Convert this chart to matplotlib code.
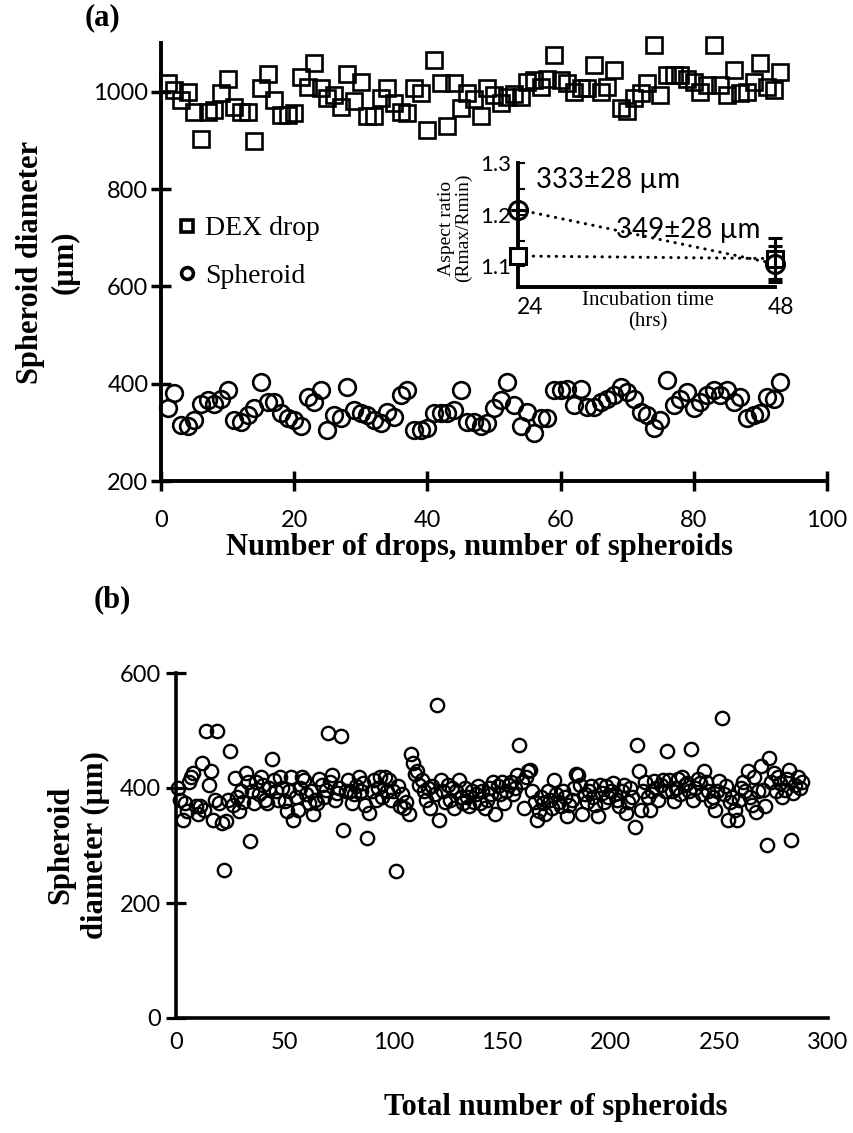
import numpy as np
import matplotlib
matplotlib.use("Agg")
import matplotlib.pyplot as plt
from matplotlib.lines import Line2D
from matplotlib.transforms import offset_copy

# ---------------- data ----------------
# (a) diameters of DEX drops and of the spheroids formed in them
drop_idx = np.arange(1, 94)
dex_diam = [1017, 1003, 983, 1000, 959, 902, 959, 963, 997, 1027,
            969, 959, 959, 898, 1007, 1037, 983, 953, 953, 956,
            1031, 1010, 1058, 1007, 986, 993, 969, 1037, 980, 1020,
            949, 949, 986, 1007, 976, 959, 956, 1007, 997, 922,
            1065, 1017, 929, 1017, 966, 997, 985, 949, 1007, 993,
            976, 990, 995, 990, 1020, 1024, 1010, 1027, 1075, 1024,
            1017, 1000, 1007, 1007, 1054, 1000, 1010, 1044, 966, 960,
            986, 997, 1017, 1096, 993, 1034, 1034, 1034, 1027, 1020,
            1000, 1014, 1096, 1014, 993, 1044, 997, 1000, 1020, 1058,
            1010, 1003, 1041]
sph_diam = [349, 380, 315, 312, 325, 359, 366, 359, 369, 386,
            325, 322, 335, 349, 403, 363, 363, 340, 329, 325,
            312, 373, 363, 386, 305, 335, 329, 393, 346, 339,
            335, 325, 319, 342, 332, 376, 386, 305, 305, 308,
            339, 339, 339, 346, 386, 322, 322, 312, 319, 349,
            366, 403, 356, 312, 342, 298, 329, 329, 386, 386,
            390, 356, 390, 353, 353, 363, 369, 376, 393, 383,
            369, 342, 335, 308, 325, 407, 356, 369, 383, 349,
            363, 376, 386, 376, 386, 363, 373, 329, 335, 339,
            373, 369, 403]

# inset: aspect ratio vs incubation time
inc_time = [24, 48]
ar_drop = [1.12, 1.115]
ar_drop_err = [0.0, 0.04]
ar_sph = [1.21, 1.105]
ar_sph_err = [0.0, 0.035]
note_24h = "333±28 µm"
note_48h = "349±28 µm"

# (b) diameters of all spheroids, in the order they were measured
sph_all = [
    400, 380, 345, 374, 360, 410, 420, 426, 368, 355,
    368, 443, 362, 500, 406, 429, 345, 380, 500, 374,
    340, 258, 342, 380, 465, 370, 417, 385, 360, 394,
    375, 426, 410, 307, 395, 374, 410, 390, 420, 405,
    380, 374, 400, 450, 414, 395, 380, 420, 400, 377,
    360, 395, 420, 345, 385, 362, 400, 420, 414, 390,
    374, 395, 354, 380, 374, 415, 406, 385, 397, 495,
    410, 423, 380, 391, 400, 490, 327, 395, 414, 395,
    374, 390, 403, 420, 395, 409, 370, 313, 356, 395,
    414, 380, 400, 420, 385, 420, 395, 414, 380, 395,
    255, 403, 368, 390, 365, 375, 354, 460, 443, 425,
    429, 405, 414, 394, 380, 400, 365, 403, 390, 545,
    345, 414, 395, 375, 405, 380, 400, 365, 395, 414,
    385, 374, 400, 385, 368, 395, 375, 390, 403, 374,
    395, 365, 380, 400, 390, 410, 354, 403, 390, 410,
    374, 395, 405, 411, 390, 400, 423, 475, 410, 365,
    420, 430, 432, 395, 375, 345, 360, 385, 374, 355,
    394, 380, 365, 414, 390, 375, 368, 395, 385, 351,
    370, 380, 400, 425, 423, 405, 354, 390, 375, 395,
    403, 385, 370, 351, 405, 391, 375, 403, 385, 395,
    409, 390, 380, 368, 395, 405, 356, 375, 400, 385,
    333, 475, 429, 362, 395, 410, 385, 362, 395, 412,
    400, 380, 405, 414, 395, 464, 414, 395, 377, 400,
    415, 390, 420, 405, 409, 395, 467, 380, 400, 415,
    409, 390, 429, 410, 395, 377, 385, 362, 395, 412,
    522, 390, 403, 345, 375, 385, 362, 345, 380, 400,
    410, 395, 429, 385, 371, 420, 359, 395, 438, 397,
    368, 301, 452, 410, 426, 395, 420, 409, 385, 397,
    415, 432, 310, 391, 405, 420, 400, 410]
sph_no = np.arange(1, len(sph_all) + 1)

# ---------------- layout helpers ----------------
W, H, DPI = 854, 1133, 100
SANS = "Lato"
SERIF = "Liberation Serif"
plt.rcParams["font.family"] = [SANS, "DejaVu Sans"]

fig = plt.figure(figsize=(W / DPI, H / DPI), dpi=DPI)


def fx(px):
    return px / W


def fy(py):
    return 1 - py / H


def box(x0, y0, x1, y1):
    return [fx(x0), fy(y1), fx(x1) - fx(x0), fy(y0) - fy(y1)]


def style_axes(ax, lw=2.8):
    for s in ("top", "right"):
        ax.spines[s].set_visible(False)
    for s in ("left", "bottom"):
        ax.spines[s].set_linewidth(lw)
        ax.spines[s].set_color("black")


# ---------------- panel (a) ----------------
axa = fig.add_axes(box(161, 43, 827, 481))
axa.plot(drop_idx, dex_diam, ls="none", marker="s", ms=11.5, mfc="none",
         mec="black", mew=1.9, clip_on=False, zorder=3)
axa.plot(drop_idx, sph_diam, ls="none", marker="o", ms=12, mfc="none",
         mec="black", mew=1.9, clip_on=False, zorder=3)
axa.set_xlim(0, 100)
axa.set_ylim(200, 1100)
axa.set_xticks(range(0, 101, 20))
axa.set_yticks(range(200, 1001, 200))
style_axes(axa)
axa.tick_params(axis="both", direction="inout", length=14, width=2.5,
                labelsize=17, colors="black")
axa.tick_params(axis="x", pad=14)
axa.tick_params(axis="y", pad=2)

handles = [Line2D([], [], ls="none", marker="s", ms=8.5, mfc="none",
                  mec="black", mew=2.6),
           Line2D([], [], ls="none", marker="o", ms=8.5, mfc="none",
                  mec="black", mew=2.6)]
axa.legend(handles, ["DEX drop", "Spheroid"], loc="upper left",
           bbox_to_anchor=(fx(179), fy(216)), bbox_transform=fig.transFigure,
           frameon=False, prop={"family": SERIF, "size": 20},
           handlelength=0.6, handletextpad=0.35, labelspacing=0.8,
           borderpad=0, borderaxespad=0)

fig.text(fx(480), fy(548), "Number of drops, number of spheroids",
         family=SERIF, weight="bold", size=22, ha="center", va="center")
fig.text(fx(48), fy(262), "Spheroid diameter\n(µm)", family=SERIF,
         weight="bold", size=22, ha="center", va="center", rotation=90,
         linespacing=1.25)
fig.text(fx(103), fy(18), "(a)", family=SERIF, weight="bold", size=22,
         ha="center", va="center")

# ---------------- inset ----------------
axi = fig.add_axes(box(518, 163, 775, 287))
axi.patch.set_alpha(0)
axi.plot(inc_time, ar_sph, color="black", lw=2.2, ls=(0, (0.1, 2.4)),
         dash_capstyle="round", zorder=2)
axi.plot(inc_time, ar_drop, color="black", lw=2.2, ls=(0, (0.1, 2.4)),
         dash_capstyle="round", zorder=2)
axi.errorbar(inc_time, ar_drop, yerr=ar_drop_err, ls="none", marker="s",
             ms=12, mfc="white", mec="black", mew=2.2, ecolor="black",
             elinewidth=2.2, capsize=5, capthick=2.2, clip_on=False, zorder=3)
axi.errorbar(inc_time, ar_sph, yerr=ar_sph_err, ls="none", marker="o",
             ms=13, mfc="none", mec="black", mew=2.2, ecolor="black",
             elinewidth=2.2, capsize=5, capthick=2.2, clip_on=False, zorder=4)
axi.set_xlim(24, 48)
axi.set_ylim(1.06, 1.30)
axi.set_xticks(inc_time)
axi.set_yticks([1.1, 1.2, 1.3])
axi.set_yticks([1.15, 1.25], minor=True)
style_axes(axi, lw=2.8)
axi.tick_params(axis="y", which="both", direction="in", length=5, width=1.5,
                labelsize=16, pad=5)
axi.tick_params(axis="x", length=0, labelsize=16.5, pad=7)
# the hour labels sit a little to the right of their tick positions
for lab, dx in zip(axi.get_xticklabels(), (12, 6)):
    lab.set_transform(offset_copy(lab.get_transform(), fig=fig,
                                  x=dx, y=0, units="dots"))
axi.text(0.07, 0.86, note_24h, transform=axi.transAxes, size=20,
         ha="left", va="center")
axi.text(0.38, 0.46, note_48h, transform=axi.transAxes, size=20,
         ha="left", va="center")
fig.text(fx(648), fy(311), "Incubation time\n(hrs)", family=SERIF,
         size=15, ha="center", va="center", linespacing=1.15)
fig.text(fx(455), fy(228), "Aspect ratio\n(Rmax/Rmin)", family=SERIF,
         size=14, ha="center", va="center", rotation=90, linespacing=1.0)

# ---------------- panel (b) ----------------
axb = fig.add_axes(box(176, 673, 828, 1018))
axb.plot(sph_no, sph_all, ls="none", marker="o", ms=9.6, mfc="none",
         mec="black", mew=1.7, clip_on=False, zorder=3)
axb.set_xlim(0, 300)
axb.set_ylim(0, 600)
axb.set_xticks(range(0, 301, 50))
axb.set_yticks(range(0, 601, 200))
style_axes(axb, lw=2.6)
axb.tick_params(axis="y", direction="inout", length=14, width=2.3,
                labelsize=17, pad=4)
axb.tick_params(axis="x", length=0, labelsize=17, pad=10)

fig.text(fx(556), fy(1108), "Total number of spheroids", family=SERIF,
         weight="bold", size=22, ha="center", va="center")
fig.text(fx(78), fy(845), "Spheroid\ndiameter (µm)", family=SERIF,
         weight="bold", size=22, ha="center", va="center", rotation=90,
         linespacing=1.25)
fig.text(fx(112), fy(600), "(b)", family=SERIF, weight="bold", size=22,
         ha="center", va="center")

fig.savefig("out.png", dpi=DPI)
